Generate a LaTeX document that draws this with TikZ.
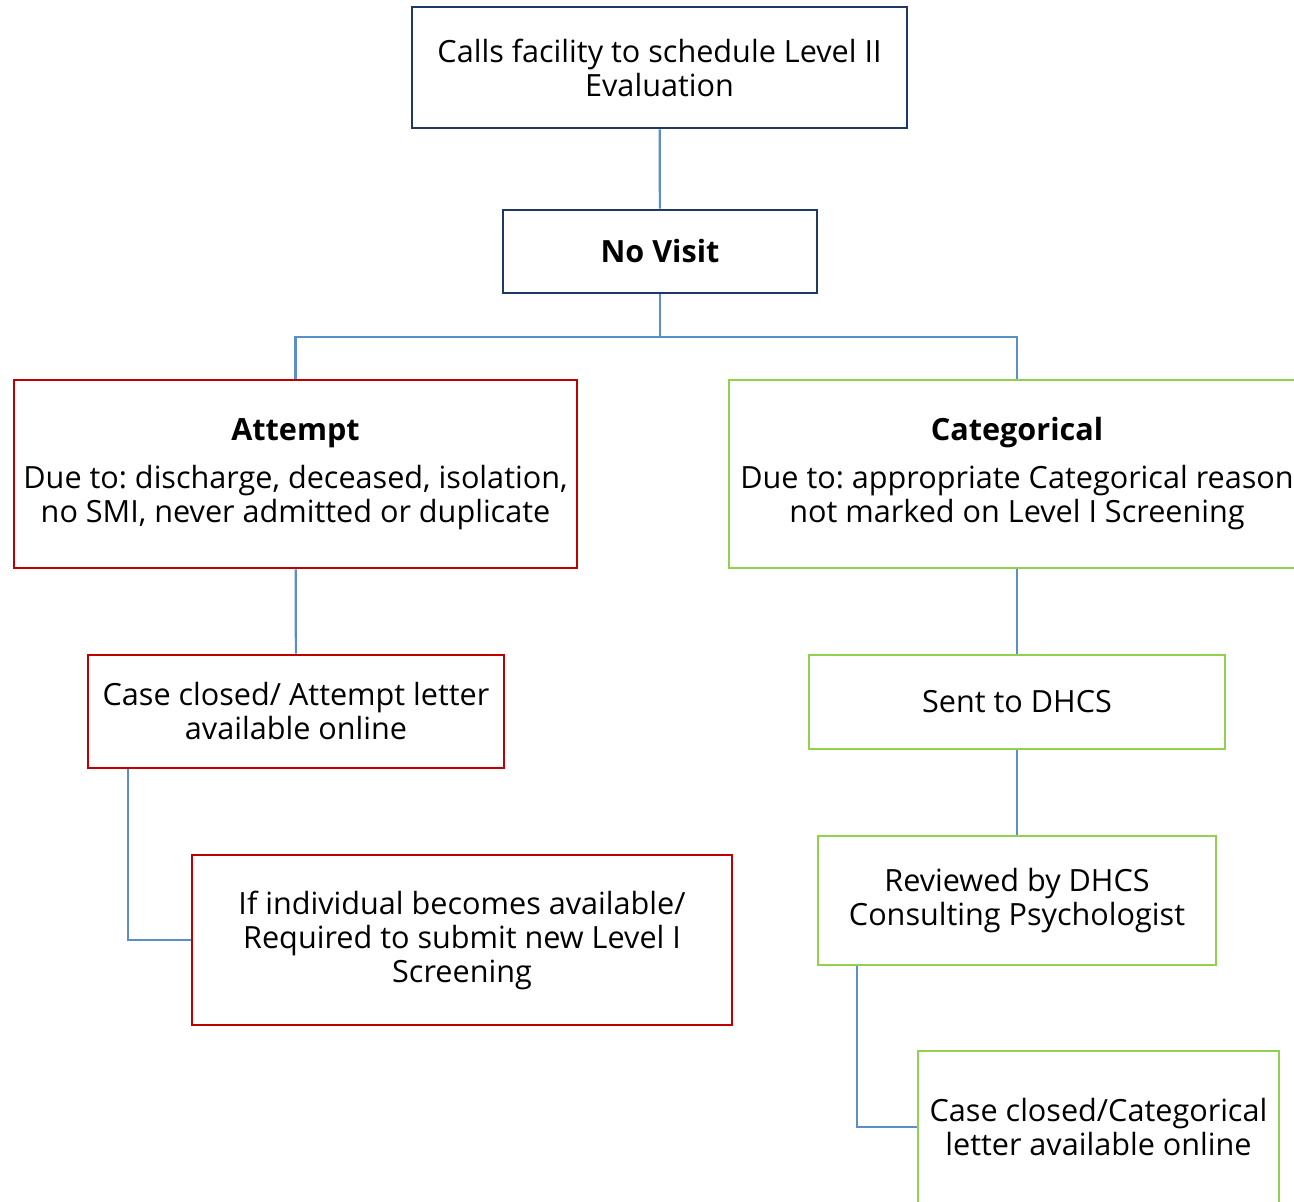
\documentclass[tikz,border=0pt]{standalone}
\usepackage{fontspec}
\setmainfont{Open Sans}
\usetikzlibrary{positioning}
\frenchspacing

\definecolor{navyline}{RGB}{31,56,100}
\definecolor{redline}{RGB}{192,0,0}
\definecolor{greenline}{RGB}{146,208,80}
\definecolor{linkblue}{RGB}{91,143,201}

\begin{document}
\begin{tikzpicture}[x=0.5pt,y=-0.5pt,
    box/.style={draw,line width=1.4pt,fill=white,align=center,inner sep=0pt,
      font=\fontsize{15.3}{17}\selectfont},
    navybox/.style={box,draw=navyline},
    redbox/.style={box,draw=redline},
    greenbox/.style={box,draw=greenline},
    link/.style={draw=linkblue,line width=1.1pt}]
  \useasboundingbox (0,0) rectangle (1294,1202);
    \foreach \nname/\xpos/\ypos/\boxw/\boxh/\boxstyle/\boxtext in {%
        calls/659.5/67.5/247.5pt/60.5pt/navybox/{Calls facility to schedule Level II\\Evaluation},
        novisit/660/251.5/157pt/41.5pt/navybox/{\textbf{No Visit}},
        attempt/295.5/474/281.5pt/94pt/redbox/{\textbf{Attempt}\\[7pt]Due to: discharge, deceased, isolation,\\no SMI, never admitted or duplicate},
        categorical/1017/474/288pt/94pt/greenbox/{\textbf{Categorical}\\[7pt]Due to: appropriate Categorical reason\\not marked on Level I Screening},
        closedA/296/711.5/208pt/56.5pt/redbox/{Case closed/ Attempt letter\\available online},
        ifavail/462/940/270pt/85pt/redbox/{If individual becomes available/\\Required to submit new Level I\\Screening},
        sent/1017/702/208pt/47pt/greenbox/{Sent to DHCS},
        reviewed/1017/900.5/199pt/64.5pt/greenbox/{Reviewed by DHCS\\Consulting Psychologist},
        closedC/1098.5/1127/180.5pt/76pt/greenbox/{Case closed/Categorical\\letter available online}%
    }{%
        \node[\boxstyle,minimum width=\boxw,minimum height=\boxh] (\nname) at (\xpos,\ypos) {\boxtext};
    }
    % connectors
    \draw[link] (calls) -- (novisit);
    \draw[link] (novisit.south) -- ++(0,43) -| (attempt.north);
    \draw[link] (novisit.south) -- ++(0,43) -| (categorical.north);
    \draw[link] (attempt) -- (closedA);
    \draw[link] (closedA.south west) ++(41,0) |- (ifavail.west);
    \draw[link] (categorical) -- (sent);
    \draw[link] (sent) -- (reviewed);
    \draw[link] (reviewed.south west) ++(40,0) |- (closedC.west);
\end{tikzpicture}
\end{document}
